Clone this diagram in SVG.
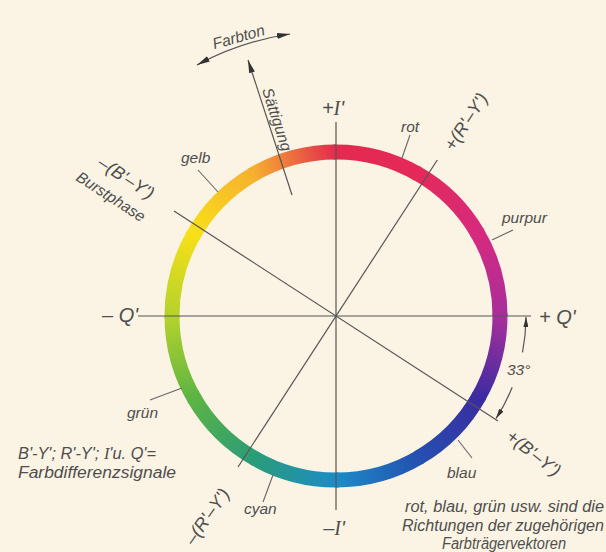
<svg xmlns="http://www.w3.org/2000/svg" width="606" height="552" viewBox="0 0 606 552">
<style>
.t{font-family:"Liberation Sans",Arial,sans-serif;font-style:italic;fill:#4e4e4e}
.ax{font-size:20px}
.lb{font-size:15.5px}
.nt{font-size:16px}
.md{font-size:18px}
.ln{stroke:#555;stroke-width:1.2;fill:none}
.ld{stroke:#666;stroke-width:1.1;fill:none}
.ring{fill:none;stroke-width:15}
.sf{font-family:"Liberation Serif",serif}
</style>
<defs>
<marker id="ah" viewBox="0 0 13 6" refX="13" refY="3" markerWidth="13" markerHeight="6" markerUnits="userSpaceOnUse" orient="auto-start-reverse"><path d="M0,0 L13,3 L0,6 z" fill="#333"/></marker>
<marker id="as" viewBox="0 0 10 5" refX="10" refY="2.5" markerWidth="10" markerHeight="5" markerUnits="userSpaceOnUse" orient="auto-start-reverse"><path d="M0,0 L10,2.5 L0,5 z" fill="#333"/></marker>
<linearGradient id="g0" gradientUnits="userSpaceOnUse" x1="500" y1="316" x2="478.03" y2="234"><stop offset="0" stop-color="#a82e9c"/><stop offset="1" stop-color="#d62a7e"/></linearGradient>
<linearGradient id="g1" gradientUnits="userSpaceOnUse" x1="478.03" y1="234" x2="418" y2="173.97"><stop offset="0" stop-color="#d62a7e"/><stop offset="1" stop-color="#e4295a"/></linearGradient>
<linearGradient id="g2" gradientUnits="userSpaceOnUse" x1="418" y1="173.97" x2="336" y2="152"><stop offset="0" stop-color="#e4295a"/><stop offset="1" stop-color="#e32a4e"/></linearGradient>
<linearGradient id="g3" gradientUnits="userSpaceOnUse" x1="336" y1="152" x2="254" y2="173.97"><stop offset="0" stop-color="#e32a4e"/><stop offset="1" stop-color="#f6b030"/></linearGradient>
<linearGradient id="g4" gradientUnits="userSpaceOnUse" x1="254" y1="173.97" x2="193.97" y2="234"><stop offset="0" stop-color="#f6b030"/><stop offset="1" stop-color="#f8e018"/></linearGradient>
<linearGradient id="g5" gradientUnits="userSpaceOnUse" x1="193.97" y1="234" x2="172" y2="316"><stop offset="0" stop-color="#f8e018"/><stop offset="1" stop-color="#b4d22c"/></linearGradient>
<linearGradient id="g6" gradientUnits="userSpaceOnUse" x1="172" y1="316" x2="193.97" y2="398"><stop offset="0" stop-color="#b4d22c"/><stop offset="1" stop-color="#5cb444"/></linearGradient>
<linearGradient id="g7" gradientUnits="userSpaceOnUse" x1="193.97" y1="398" x2="254" y2="458.03"><stop offset="0" stop-color="#5cb444"/><stop offset="1" stop-color="#2a9c78"/></linearGradient>
<linearGradient id="g8" gradientUnits="userSpaceOnUse" x1="254" y1="458.03" x2="336" y2="480"><stop offset="0" stop-color="#2a9c78"/><stop offset="1" stop-color="#1c8cc6"/></linearGradient>
<linearGradient id="g9" gradientUnits="userSpaceOnUse" x1="336" y1="480" x2="418" y2="458.03"><stop offset="0" stop-color="#1c8cc6"/><stop offset="1" stop-color="#2450b0"/></linearGradient>
<linearGradient id="g10" gradientUnits="userSpaceOnUse" x1="418" y1="458.03" x2="478.03" y2="398"><stop offset="0" stop-color="#2450b0"/><stop offset="1" stop-color="#3a2ca0"/></linearGradient>
<linearGradient id="g11" gradientUnits="userSpaceOnUse" x1="478.03" y1="398" x2="500" y2="316"><stop offset="0" stop-color="#3a2ca0"/><stop offset="1" stop-color="#a82e9c"/></linearGradient>
</defs>
<rect width="606" height="552" fill="#fbf4e4"/>

<g id="ring">
<path class="ring" stroke="url(#g0)" d="M500 316 A164 164 0 0 0 476.58 231.53"/>
<path class="ring" stroke="url(#g1)" d="M478.03 234 A164 164 0 0 0 415.51 172.56"/>
<path class="ring" stroke="url(#g2)" d="M418 173.97 A164 164 0 0 0 333.14 152.02"/>
<path class="ring" stroke="url(#g3)" d="M336 152 A164 164 0 0 0 251.53 175.42"/>
<path class="ring" stroke="url(#g4)" d="M254 173.97 A164 164 0 0 0 192.56 236.49"/>
<path class="ring" stroke="url(#g5)" d="M193.97 234 A164 164 0 0 0 172.02 318.86"/>
<path class="ring" stroke="url(#g6)" d="M172 316 A164 164 0 0 0 195.42 400.47"/>
<path class="ring" stroke="url(#g7)" d="M193.97 398 A164 164 0 0 0 256.49 459.44"/>
<path class="ring" stroke="url(#g8)" d="M254 458.03 A164 164 0 0 0 338.86 479.98"/>
<path class="ring" stroke="url(#g9)" d="M336 480 A164 164 0 0 0 420.47 456.58"/>
<path class="ring" stroke="url(#g10)" d="M418 458.03 A164 164 0 0 0 479.44 395.51"/>
<path class="ring" stroke="url(#g11)" d="M478.03 398 A164 164 0 0 0 499.98 313.14"/>
</g>

<g id="connectors">
<line class="ln" x1="138" y1="316" x2="531" y2="316"/>
<line class="ln" x1="336" y1="122" x2="336" y2="510"/>
<line class="ln" x1="174" y1="211" x2="498" y2="421"/>
<line class="ln" x1="437.3" y1="160" x2="238" y2="467"/>
<line class="ln" x1="292" y1="195" x2="248" y2="60" marker-end="url(#ah)"/>
<path class="ln" d="M197 65 A286 286 0 0 1 290 34" marker-start="url(#ah)" marker-end="url(#ah)"/>
<path class="ln" d="M522.5 352.3 A190 190 0 0 0 526 317" marker-end="url(#as)"/>
<path class="ln" d="M512.2 387.2 A190 190 0 0 1 496 418.5" marker-end="url(#as)"/>
<line class="ld" x1="410" y1="135" x2="402" y2="158"/>
<line class="ld" x1="513" y1="230" x2="492" y2="240"/>
<line class="ld" x1="198" y1="170" x2="218" y2="192"/>
<line class="ld" x1="150" y1="400" x2="182" y2="388"/>
<line class="ld" x1="263" y1="502" x2="273" y2="475"/>
<line class="ld" x1="472" y1="458" x2="458" y2="440"/>
</g>

<g id="axis-labels">
<text class="t ax" x="333" y="115" text-anchor="middle">+<tspan class="sf">I</tspan>'</text>
<text class="t ax" x="334" y="535" text-anchor="middle">–<tspan class="sf">I</tspan>'</text>
<text class="t ax" x="102" y="322">– Q'</text>
<text class="t ax" x="539" y="324">+ Q'</text>
<text class="t md" transform="translate(471,125) rotate(-57)" text-anchor="middle">+(R'–Y')</text>
<text class="t md" transform="translate(212,520) rotate(-55)" text-anchor="middle">–(R'–Y')</text>
<text class="t md" transform="translate(123,183) rotate(33)" text-anchor="middle">–(B'–Y')</text>
<text class="t lb" transform="translate(108,201) rotate(33)" text-anchor="middle">Burstphase</text>
<text class="t md" transform="translate(530,458) rotate(38)" text-anchor="middle">+(B'–Y')</text>
</g>

<g id="color-labels">
<text class="t lb" x="401" y="132">rot</text>
<text class="t lb" x="502" y="223">purpur</text>
<text class="t lb" x="181" y="163">gelb</text>
<text class="t lb" x="127" y="418">grün</text>
<text class="t lb" x="244" y="514">cyan</text>
<text class="t lb" x="447" y="478">blau</text>
<text class="t lb" x="507" y="375">33°</text>
</g>

<g id="arrows-labels">
<text class="t lb" transform="translate(272,121) rotate(72)" text-anchor="middle">Sättigung</text>
<text class="t lb" transform="translate(240,42) rotate(-16)" text-anchor="middle">Farbton</text>
</g>

<g id="notes">
<text class="t nt" x="18" y="459" textLength="138" lengthAdjust="spacingAndGlyphs">B'-Y'; R'-Y'; <tspan class="sf">I</tspan>'u. Q'=</text>
<text class="t nt" x="18" y="478" textLength="158" lengthAdjust="spacingAndGlyphs">Farbdifferenzsignale</text>
<text class="t nt" x="405" y="512" textLength="199" lengthAdjust="spacingAndGlyphs">rot, blau, grün usw. sind die</text>
<text class="t nt" x="402" y="531" textLength="202" lengthAdjust="spacingAndGlyphs">Richtungen der zugehörigen</text>
<text class="t nt" x="504" y="549" text-anchor="middle" textLength="124" lengthAdjust="spacingAndGlyphs">Farbträgervektoren</text>
</g>
</svg>
